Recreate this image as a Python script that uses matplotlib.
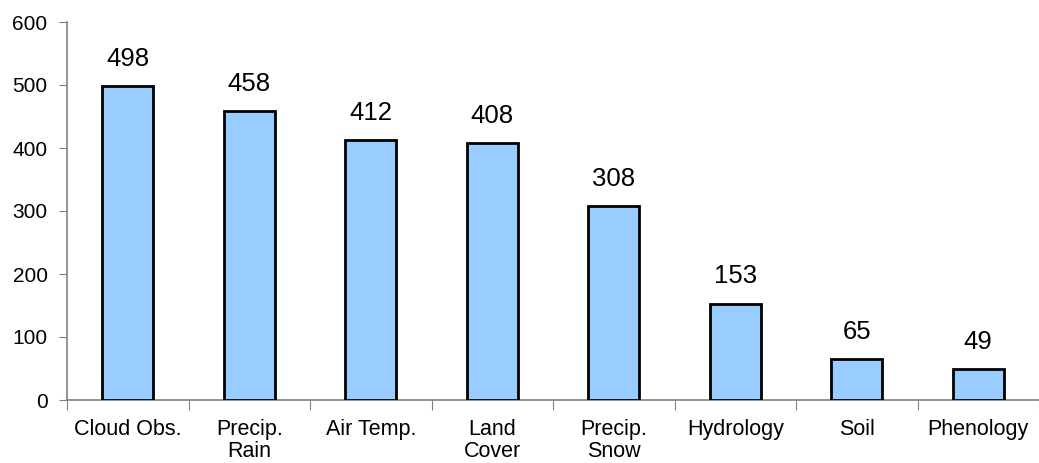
import numpy as np
import matplotlib.pyplot as plt

plt.rcParams['font.family'] = ['Liberation Sans', 'DejaVu Sans']

categories = ['Cloud Obs.', 'Precip.\nRain', 'Air Temp.', 'Land\nCover',
              'Precip.\nSnow', 'Hydrology', 'Soil', 'Phenology']
counts = [498, 458, 412, 408, 308, 153, 65, 49]

fig = plt.figure(figsize=(10.39, 4.63), dpi=100)
ax = fig.add_axes([67 / 1039, 63 / 463, 972 / 1039, 378 / 463])

x = np.arange(len(categories))
ax.bar(x, counts, width=0.42, color='#99ccff', edgecolor='black', linewidth=2, zorder=3)

# value labels above bars
for xi, v in zip(x, counts):
    ax.annotate(str(v), (xi, v), xytext=(0, 11), textcoords='offset points',
                ha='center', va='bottom', fontsize=18.5)

ax.set_xlim(-0.5, len(categories) - 0.5)
ax.set_ylim(0, 600)
ax.set_yticks(np.arange(0, 601, 100))
ax.tick_params(axis='y', labelsize=15, length=6, color='#808080', pad=8)

# category labels centred on bars, tick marks between categories
ax.set_xticks(np.arange(-0.5, len(categories), 1.0))
ax.set_xticklabels([])
ax.set_xticks(x, minor=True)
ax.set_xticklabels(categories, minor=True, fontsize=15.5, linespacing=1.05)
ax.tick_params(axis='x', which='major', length=7, color='#808080')
ax.tick_params(axis='x', which='minor', length=0, pad=14)

for s in ['top', 'right']:
    ax.spines[s].set_visible(False)
for s in ['left', 'bottom']:
    ax.spines[s].set_color('#808080')
    ax.spines[s].set_linewidth(1.2)

fig.savefig('out.png', dpi=100)
